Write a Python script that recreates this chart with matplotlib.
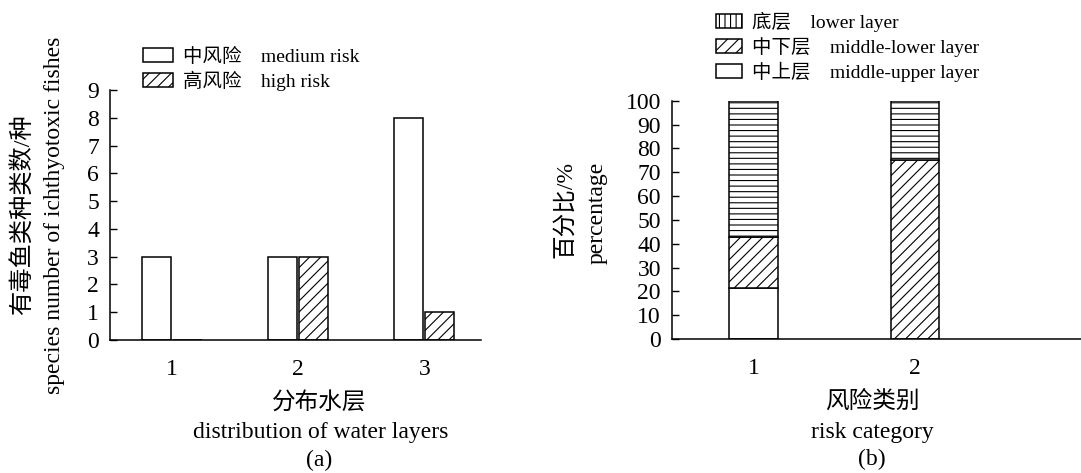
import matplotlib
matplotlib.use("Agg")
import matplotlib.pyplot as plt
from matplotlib.patches import Patch

# fonts: serif for latin, CJK fallback
FONTS = ['Liberation Serif', 'Noto Sans CJK SC']
plt.rcParams['font.family'] = FONTS
plt.rcParams['hatch.linewidth'] = 0.8
plt.rcParams['axes.linewidth'] = 1.1

# data, panel (a)
layers = [1, 2, 3]
medium_risk = [3, 3, 8]
high_risk = [0, 3, 1]

# data, panel (b)
risk_cats = [1, 2]
upper_layer = [21.4, 0]
mid_lower_layer = [21.5, 75]
lower_layer = [57.1, 25]

W, H = 1081, 473
fig = plt.figure(figsize=(W / 100, H / 100), dpi=100)


def fx(px):
    return px / W


def fy(py):
    return 1 - py / H


def style_axis(ax):
    ax.spines['top'].set_visible(False)
    ax.spines['right'].set_visible(False)
    ax.tick_params(axis='y', direction='in', length=5, width=1.0, labelsize=17, pad=8)
    ax.tick_params(axis='x', length=0, labelsize=17, pad=14)


# ---- panel (a)
ax1 = fig.add_axes([fx(110), fy(340), fx(481) - fx(110), fy(90) - fy(340)])
bw = 0.23
ax1.bar([x - bw / 2 - 0.008 for x in layers], medium_risk, width=bw,
        facecolor='white', edgecolor='black', linewidth=1.1)
ax1.bar([x + bw / 2 + 0.008 for x in layers], high_risk, width=bw,
        facecolor='white', edgecolor='black', linewidth=1.1, hatch='///')
ax1.set_xlim(0.505, 3.45)
ax1.set_ylim(0, 9)
ax1.set_yticks(range(0, 10))
ax1.set_xticks(layers)
style_axis(ax1)

leg_a = [Patch(facecolor='white', edgecolor='black', linewidth=1.1, label='中风险\u3000medium risk'),
         Patch(facecolor='white', edgecolor='black', linewidth=1.1, hatch='///', label='高风险\u3000high risk')]
ax1.legend(handles=leg_a, loc='upper left', bbox_to_anchor=(fx(143), fy(48)),
           bbox_transform=fig.transFigure, frameon=False, borderpad=0, borderaxespad=0,
           handlelength=1.55, handleheight=0.72, handletextpad=0.5, labelspacing=0.25,
           prop={'family': FONTS, 'size': 14})

fig.text(fx(22), fy(215), '有毒鱼类种类数/种', rotation=90, ha='center', va='center', fontsize=17.5)
fig.text(fx(55), fy(215), 'species number of ichthyotoxic fishes', rotation=90,
         ha='center', va='center', fontsize=17)
fig.text(fx(319), fy(403), '分布水层', ha='center', va='center', fontsize=17)
fig.text(fx(321), fy(432), 'distribution of water layers', ha='center', va='center', fontsize=17)
fig.text(fx(319), fy(460), '(a)', ha='center', va='center', fontsize=17)

# ---- panel (b)
ax2 = fig.add_axes([fx(672), fy(339), 1 - fx(672), fy(100.7) - fy(339)])
bw2 = 0.30
bottom2 = [u + m for u, m in zip(upper_layer, mid_lower_layer)]
ax2.bar(risk_cats, upper_layer, width=bw2, facecolor='white', edgecolor='black', linewidth=1.1)
ax2.bar(risk_cats, mid_lower_layer, width=bw2, bottom=upper_layer,
        facecolor='white', edgecolor='black', linewidth=1.1, hatch='///')
ax2.bar(risk_cats, lower_layer, width=bw2, bottom=bottom2,
        facecolor='white', edgecolor='black', linewidth=1.1, hatch='---')
ax2.set_xlim(0.495, 3.03)
ax2.set_ylim(0, 100)
ax2.set_yticks(range(0, 101, 10))
ax2.set_xticks(risk_cats)
style_axis(ax2)

leg_b = [Patch(facecolor='white', edgecolor='black', linewidth=1.1, hatch='|||', label='底层\u3000lower layer'),
         Patch(facecolor='white', edgecolor='black', linewidth=1.1, hatch='///', label='中下层\u3000middle-lower layer'),
         Patch(facecolor='white', edgecolor='black', linewidth=1.1, label='中上层\u3000middle-upper layer')]
ax2.legend(handles=leg_b, loc='upper left', bbox_to_anchor=(fx(716), fy(12)),
           bbox_transform=fig.transFigure, frameon=False, borderpad=0, borderaxespad=0,
           handlelength=1.35, handleheight=0.72, handletextpad=0.5, labelspacing=0.25,
           prop={'family': FONTS, 'size': 14})

fig.text(fx(565), fy(210), '百分比/%', rotation=90, ha='center', va='center', fontsize=17)
fig.text(fx(597), fy(213), 'percentage', rotation=90, ha='center', va='center', fontsize=17)
fig.text(fx(872), fy(402), '风险类别', ha='center', va='center', fontsize=17)
fig.text(fx(872), fy(432), 'risk category', ha='center', va='center', fontsize=17)
fig.text(fx(872), fy(459), '(b)', ha='center', va='center', fontsize=17)

fig.savefig('out.png', dpi=100)
